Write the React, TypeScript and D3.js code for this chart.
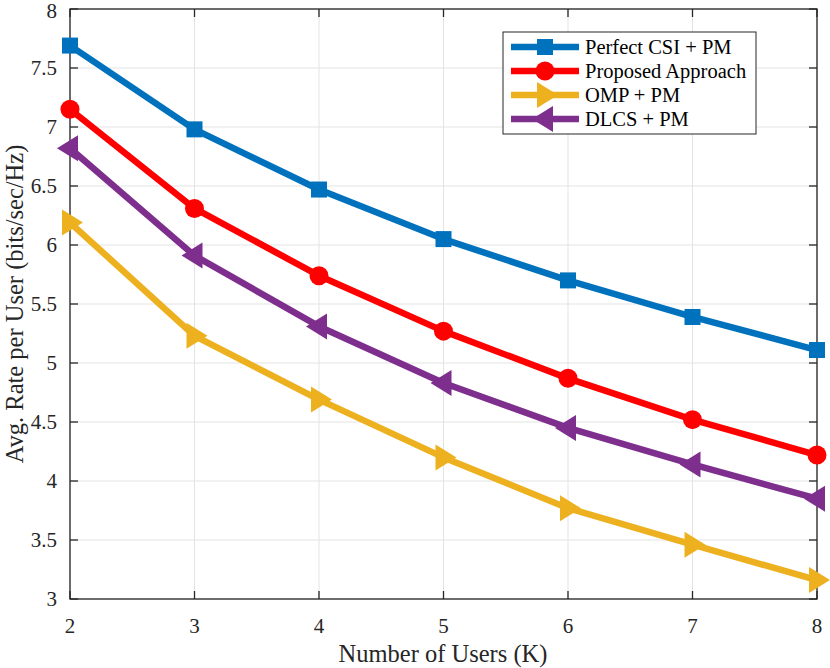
import React, { useRef, useEffect } from 'react'
import * as d3 from 'd3'

const users = [2, 3, 4, 5, 6, 7, 8]
const perfectCsi = [7.69, 6.98, 6.47, 6.05, 5.7, 5.39, 5.11]
const proposed = [7.15, 6.31, 5.74, 5.27, 4.87, 4.52, 4.22]
const ompPm = [6.19, 5.23, 4.69, 4.2, 3.77, 3.46, 3.16]
const dlcsPm = [6.82, 5.91, 5.31, 4.83, 4.45, 4.14, 3.85]
const xTicks = [2, 3, 4, 5, 6, 7, 8]
const yTicks = [3, 3.5, 4, 4.5, 5, 5.5, 6, 6.5, 7, 7.5, 8]

const series = [
  { name: 'Perfect CSI + PM', values: perfectCsi, color: '#0072BD', marker: 'square' },
  { name: 'Proposed Approach', values: proposed, color: '#FF0000', marker: 'circle' },
  { name: 'OMP + PM', values: ompPm, color: '#EDB120', marker: 'right' },
  { name: 'DLCS  + PM', values: dlcsPm, color: '#7E2F8E', marker: 'left' },
]

const FONT = '"Liberation Serif", "Times New Roman", serif'

const drawMarker = (g: d3.Selection<SVGGElement, unknown, null, undefined>, kind: string, x: number, y: number, color: string) => {
  if (kind === 'square') {
    g.append('rect').attr('x', x - 8).attr('y', y - 8).attr('width', 16).attr('height', 16).attr('fill', color)
  } else if (kind === 'circle') {
    g.append('circle').attr('cx', x).attr('cy', y).attr('r', 9.5).attr('fill', color)
  } else if (kind === 'right') {
    g.append('path').attr('d', `M${x + 13},${y} L${x - 8},${y - 13} L${x - 8},${y + 13} Z`).attr('fill', color)
  } else {
    g.append('path').attr('d', `M${x - 13},${y} L${x + 8},${y - 13} L${x + 8},${y + 13} Z`).attr('fill', color)
  }
}

export default function App() {
  const ref = useRef<SVGSVGElement>(null)

  useEffect(() => {
    const svg = d3.select(ref.current)
    svg.selectAll('*').remove()

    const left = 70
    const right = 817
    const top = 9
    const bottom = 599

    const x = d3.scaleLinear().domain([2, 8]).range([left, right])
    const y = d3.scaleLinear().domain([3, 8]).range([bottom, top])

    // grid
    const grid = svg.append('g')
    xTicks.forEach((t) => {
      grid.append('line').attr('x1', x(t)).attr('x2', x(t)).attr('y1', top).attr('y2', bottom).attr('stroke', '#e3e3e3').attr('stroke-width', 1)
    })
    yTicks.forEach((t) => {
      grid.append('line').attr('x1', left).attr('x2', right).attr('y1', y(t)).attr('y2', y(t)).attr('stroke', '#e3e3e3').attr('stroke-width', 1)
    })

    // axes box with inward ticks
    const axes = svg.append('g').attr('font-family', FONT).attr('font-size', 21).attr('fill', '#262626')
    axes.append('rect').attr('x', left).attr('y', top).attr('width', right - left).attr('height', bottom - top)
      .attr('fill', 'none').attr('stroke', '#262626').attr('stroke-width', 1.3)
    xTicks.forEach((t) => {
      axes.append('line').attr('x1', x(t)).attr('x2', x(t)).attr('y1', bottom).attr('y2', bottom - 8).attr('stroke', '#262626').attr('stroke-width', 1.3)
      axes.append('line').attr('x1', x(t)).attr('x2', x(t)).attr('y1', top).attr('y2', top + 8).attr('stroke', '#262626').attr('stroke-width', 1.3)
      axes.append('text').attr('x', x(t)).attr('y', 633).attr('text-anchor', 'middle').text(d3.format('d')(t))
    })
    yTicks.forEach((t) => {
      axes.append('line').attr('x1', left).attr('x2', left + 8).attr('y1', y(t)).attr('y2', y(t)).attr('stroke', '#262626').attr('stroke-width', 1.3)
      axes.append('line').attr('x1', right).attr('x2', right - 8).attr('y1', y(t)).attr('y2', y(t)).attr('stroke', '#262626').attr('stroke-width', 1.3)
      axes.append('text').attr('x', 57).attr('y', Math.max(y(t) + 7, 18)).attr('text-anchor', 'end').text(String(t))
    })

    axes.append('text').attr('x', 443).attr('y', 662).attr('font-size', 24.5).attr('text-anchor', 'middle').text('Number of Users (K)')
    axes.append('text').attr('transform', `translate(23, ${(top + bottom) / 2}) rotate(-90)`).attr('font-size', 24.5).attr('text-anchor', 'middle').text('Avg. Rate per User (bits/sec/Hz)')

    // lines + markers
    const line = d3.line<number>().x((d, i) => x(users[i])).y((d) => y(d))
    series.forEach((s) => {
      const g = svg.append('g')
      g.append('path').datum(s.values).attr('fill', 'none').attr('stroke', s.color).attr('stroke-width', 6.5)
        .attr('stroke-linejoin', 'round').attr('d', line)
      s.values.forEach((v, i) => drawMarker(g, s.marker, x(users[i]), y(v), s.color))
    })

    // legend
    const lg = svg.append('g')
    lg.append('rect').attr('x', 503).attr('y', 32).attr('width', 253).attr('height', 102).attr('fill', '#fff').attr('stroke', '#262626').attr('stroke-width', 1)
    series.forEach((s, i) => {
      const cy = 47 + i * 24
      lg.append('line').attr('x1', 511).attr('x2', 579).attr('y1', cy).attr('y2', cy).attr('stroke', s.color).attr('stroke-width', 6.5)
      drawMarker(lg, s.marker, 545, cy, s.color)
      lg.append('text').attr('x', 585).attr('y', cy + 7).attr('font-family', FONT).attr('font-size', 20.5).attr('fill', '#000').text(s.name)
    })
  }, [])

  return <svg ref={ref} width={830} height={668} style={{ position: 'absolute', left: 0, top: 0, background: '#fff' }} />
}
